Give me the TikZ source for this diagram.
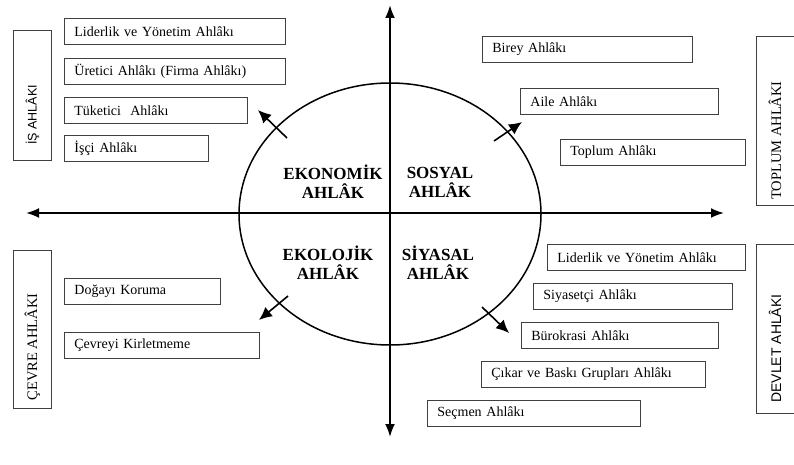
\documentclass[tikz,border=0pt]{standalone}
\usepackage{fontspec}
\setmainfont{Liberation Serif}
\newfontfamily\duzyazi{Liberation Sans}
\usetikzlibrary{arrows.meta}

\begin{document}
\begin{tikzpicture}[x=1pt, y=-1pt,
  ebox/.style={draw=black!75, line width=0.8pt, anchor=north west, minimum height=26pt,
    inner xsep=10pt, text width=#1, align=left, font=\fontsize{14}{16}\selectfont},
  vbox/.style={draw=black!75, line width=0.8pt, rotate=90, minimum height=38pt,
    font=\fontsize{14.5}{16}\selectfont},
  alan/.style={font=\bfseries\fontsize{17}{19}\selectfont, align=center},
  eksen/.style={{Latex[length=13pt,width=10pt]}-{Latex[length=13pt,width=10pt]}, line width=2pt},
  okucuk/.style={-{Latex[length=13pt,width=12pt]}, line width=1.6pt}]
  \useasboundingbox (0,0) rectangle (794,465);

  % eksenler
  \coordinate (solu) at (26,213);
  \coordinate (sagu) at (724,213);
  \coordinate (ustu) at (390,5);
  \coordinate (altu) at (390,437);
  \draw[eksen] (solu) -- (sagu);
  \draw[eksen] (ustu) -- (altu);

  % elips
  \coordinate (merkez) at (390,214);
  \draw[line width=1.5pt] (merkez) ellipse [x radius=151, y radius=131];

  % elipsten disari oklar
  \coordinate (ok1a) at (287,138); \coordinate (ok1b) at (258,110);
  \coordinate (ok2a) at (494,141); \coordinate (ok2b) at (522,122);
  \coordinate (ok3a) at (288,296); \coordinate (ok3b) at (259,320);
  \coordinate (ok4a) at (482,307); \coordinate (ok4b) at (509,333);
  \draw[okucuk] (ok1a) -- (ok1b);
  \draw[okucuk] (ok2a) -- (ok2b);
  \draw[okucuk] (ok3a) -- (ok3b);
  \draw[okucuk] (ok4a) -- (ok4b);

  % dort alan
  \node[alan] (ekonomik) at (333,182) {EKONOMİK\\AHLÂK};
  \node[alan] (sosyal) at (440,182) {SOSYAL\\AHLÂK};
  \node[alan] (ekolojik) at (328,263) {EKOLOJİK\\AHLÂK};
  \node[alan] (siyasal) at (438,263) {SİYASAL\\AHLÂK};

  % is ahlaki
  \node[vbox, minimum width=130pt, font=\duzyazi\fontsize{12.5}{14}\selectfont] (is) at (32.5,95) {İŞ AHLÂKI\hspace*{40pt}};
  \node[ebox=201pt] (lider1) at (64,18) {Liderlik ve Yönetim Ahlâkı};
  \node[ebox=201pt] (uretici) at (64,58) {Üretici Ahlâkı (Firma Ahlâkı)};
  \node[ebox=163pt] (tuketici) at (64,97) {Tüketici \ Ahlâkı};
  \node[ebox=124pt] (isci) at (64,135) {İşçi Ahlâkı};

  % toplum ahlaki
  \node[vbox, minimum width=169pt] (toplum) at (775,120.5) {TOPLUM AHLÂKI\hspace*{40pt}};
  \node[ebox=190pt] (birey) at (482,36) {Birey Ahlâkı};
  \node[ebox=178pt] (aile) at (520,88) {Aile Ahlâkı};
  \node[ebox=165pt] (toplumk) at (560,139) {Toplum Ahlâkı};

  % cevre ahlaki
  \node[vbox, minimum width=158pt] (cevre) at (32.5,329) {ÇEVRE AHLÂKI\hspace*{36pt}};
  \node[ebox=136pt] (doga) at (64,278) {Doğayı Koruma};
  \node[ebox=175pt] (kirlet) at (64,332) {Çevreyi Kirletmeme};

  % devlet ahlaki
  \node[vbox, minimum width=169pt, font=\duzyazi\fontsize{14}{16}\selectfont] (devlet) at (775,328.5) {DEVLET AHLÂKI\hspace*{40pt}};
  \node[ebox=178pt] (lider2) at (547,244) {Liderlik ve Yönetim Ahlâkı};
  \node[ebox=179pt] (siyasetci) at (533,283) {Siyasetçi Ahlâkı};
  \node[ebox=177pt] (burokrasi) at (521,322) {Bürokrasi Ahlâkı};
  \node[ebox=204pt] (cikar) at (481,361) {Çıkar ve Baskı Grupları Ahlâkı};
  \node[ebox=193pt] (secmen) at (427,400) {Seçmen Ahlâkı};
\end{tikzpicture}
\end{document}
